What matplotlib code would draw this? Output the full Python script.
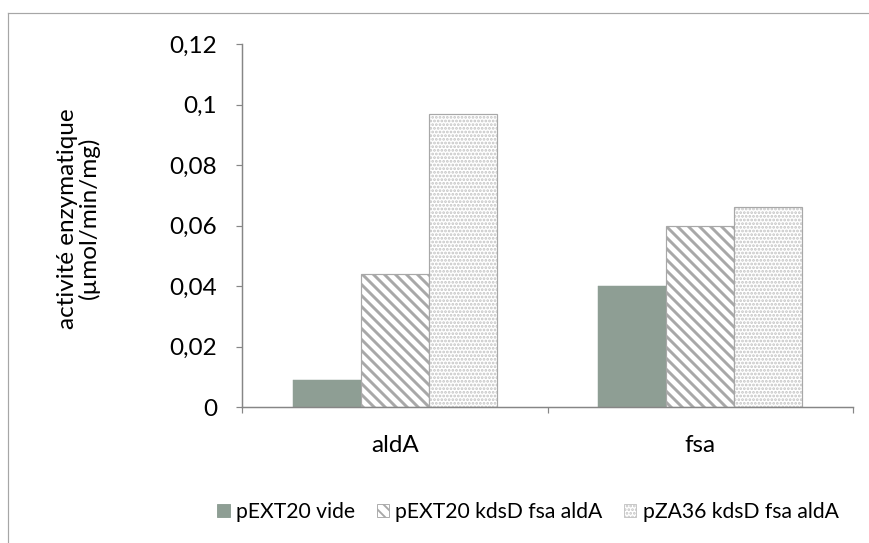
import matplotlib
matplotlib.use("Agg")
import matplotlib.pyplot as plt
from matplotlib.patches import Patch
from matplotlib.lines import Line2D
import numpy as np

## Data
categories = ["aldA", "fsa"]
series_names = ["pEXT20 vide", "pEXT20 kdsD fsa aldA", "pZA36 kdsD fsa aldA"]
vide = [0.009, 0.040]
kdsd_pext = [0.044, 0.060]
kdsd_pza = [0.097, 0.066]
yticks = [0, 0.02, 0.04, 0.06, 0.08, 0.1, 0.12]
ytick_labels = ["0", "0,02", "0,04", "0,06", "0,08", "0,1", "0,12"]

## Style
DPI = 66
FS = 26.5      # axis text
FS_LEG = 23    # legend text
plt.rcParams['font.family'] = ['Lato', 'DejaVu Sans']
plt.rcParams['hatch.linewidth'] = 3.2
axis_col = "#868686"

fig = plt.figure(figsize=(869 / DPI, 543 / DPI), dpi=DPI)
ax = fig.add_axes([242 / 869, 1 - 407 / 543, (853 - 242) / 869, (407 - 44) / 543])

x = np.arange(len(categories))
w = 2 / 9
ax.bar(x - w, vide, w, color="#8E9E94", edgecolor="#8E9E94", linewidth=0.5)
ax.bar(x, kdsd_pext, w, color="white", edgecolor="#A8A8A8", hatch="\\\\", linewidth=1.3)
plt.rcParams['hatch.linewidth'] = 2.0
ax.bar(x + w, kdsd_pza, w, color="white", edgecolor="#C4C4C4", hatch="...", linewidth=0)
ax.bar(x + w, kdsd_pza, w, fill=False, edgecolor="#A8A8A8", linewidth=1.3)

ax.set_xlim(-0.5, 1.5)
ax.set_ylim(0, 0.12)
ax.set_yticks(yticks)
ax.set_yticklabels(ytick_labels, fontsize=FS)
ax.set_xticks(x)
ax.set_xticklabels(categories, fontsize=FS)
ax.set_xticks([-0.5, 0.5, 1.5], minor=True)
ax.tick_params(axis='x', which='major', length=0, pad=31)
ax.tick_params(axis='x', which='minor', length=6, width=1.3, color=axis_col)
ax.tick_params(axis='y', length=7, width=1.3, color=axis_col, pad=20)

for s in ["top", "right"]:
    ax.spines[s].set_visible(False)
for s in ["left", "bottom"]:
    ax.spines[s].set_color(axis_col)
    ax.spines[s].set_linewidth(1.6)

ax.set_ylabel("activité enzymatique\n(µmol/min/mg)", fontsize=FS, linespacing=1.0)
ax.yaxis.set_label_coords(-0.233, 0.52)

## Legend
handles = [
    Patch(facecolor="#8E9E94", edgecolor="#8E9E94"),
    Patch(facecolor="white", edgecolor="#A8A8A8", hatch="\\\\"),
    Patch(facecolor="white", edgecolor="#C4C4C4", hatch="..."),
]
fig.legend(handles, series_names, loc="center", bbox_to_anchor=(528 / 869, 1 - 512 / 543),
           ncol=3, frameon=False, fontsize=FS_LEG, handlelength=0.6, handleheight=0.6,
           handletextpad=0.3, columnspacing=1.0)

## Outer frame (top and left only)
fig.add_artist(Line2D([8 / 869, 1], [1 - 13 / 543, 1 - 13 / 543], color="#A6A6A6", lw=1.3))
fig.add_artist(Line2D([8 / 869, 8 / 869], [0, 1 - 13 / 543], color="#A6A6A6", lw=1.3))

fig.savefig("out.png", dpi=DPI)
